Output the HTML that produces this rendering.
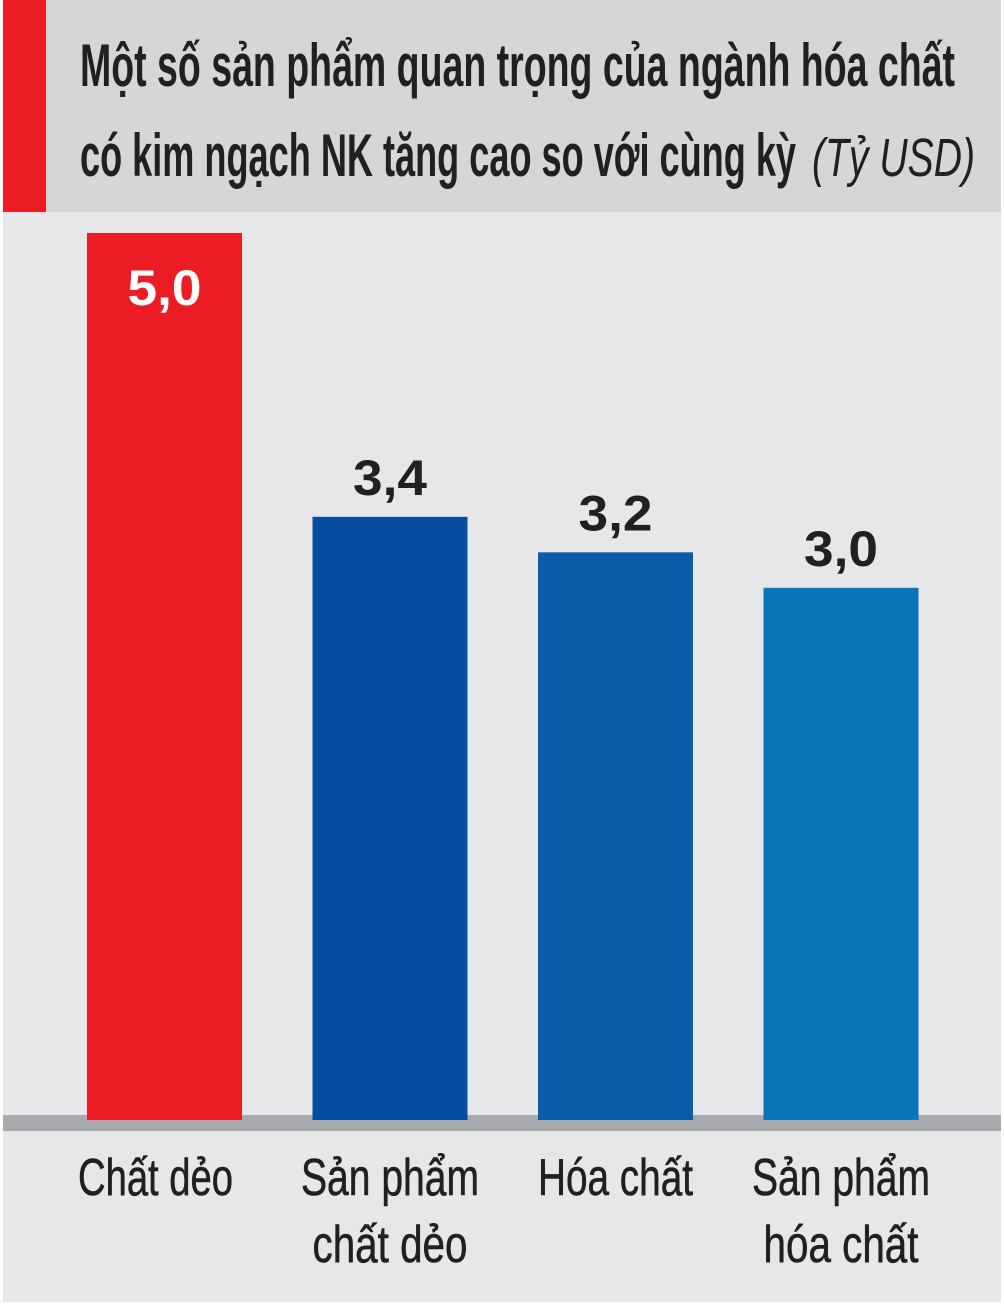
<!DOCTYPE html>
<html><head><meta charset="utf-8"><style>
html,body{margin:0;padding:0;background:#fff;}
svg{display:block;font-family:"Liberation Sans",sans-serif;}
</style></head><body>
<svg id="chart" width="1004" height="1312" viewBox="0 0 1004 1312">
<rect x="3" y="0" width="998" height="1302" fill="#e6e7e8"/>
<rect x="3" y="0" width="998" height="212" fill="#d5d6d8"/>
<rect x="3" y="0" width="43" height="212" fill="#ec1c24"/>
<text x="80" y="86" font-size="60" font-weight="bold" fill="#231f20" textLength="875" lengthAdjust="spacingAndGlyphs">Một số sản phẩm quan trọng của ngành hóa chất</text>
<text x="80" y="176" font-size="60" font-weight="bold" fill="#231f20" textLength="716" lengthAdjust="spacingAndGlyphs">có kim ngạch NK tăng cao so với cùng kỳ</text>
<text x="812" y="176" font-size="54" font-style="italic" fill="#231f20" textLength="163" lengthAdjust="spacingAndGlyphs">(Tỷ USD)</text>
<rect x="3" y="1115" width="998" height="16" fill="#a7a9ac"/>
<g id="bars"></g>
</svg>
<script>
const categories = [["Chất dẻo"], ["Sản phẩm", "chất dẻo"], ["Hóa chất"], ["Sản phẩm", "hóa chất"]];
const values = [5.0, 3.4, 3.2, 3.0];
const valueLabels = ["5,0", "3,4", "3,2", "3,0"];
const colors = ["#ec1c24", "#064ca0", "#0a5ea8", "#0a76ba"];
const NS = "http://www.w3.org/2000/svg";
const baseY = 1120, yMax = 5.0, plotH = 887;
const y = v => baseY - v / yMax * plotH;
const x0 = 87, step = 225.5, bw = 155;
const xc = i => x0 + i * step + bw / 2;
const g = document.getElementById("bars");
function mk(tag, attrs) { const e = document.createElementNS(NS, tag); for (const k in attrs) e.setAttribute(k, attrs[k]); g.appendChild(e); return e; }
values.forEach((v, i) => {
  const r = mk("rect", { x: xc(i) - bw / 2, y: y(v), width: bw, height: baseY - y(v), fill: colors[i] });
  
  
  const inside = i === 0;
  const t = mk("text", { x: xc(i), y: inside ? y(v) + 72 : y(v) - 22, "font-size": 50, "font-weight": "bold", "text-anchor": "middle", fill: inside ? "#fff" : "#231f20", textLength: 74, lengthAdjust: "spacingAndGlyphs" });
  t.textContent = valueLabels[i];
  
  
  categories[i].forEach((line, j) => {
    const wide = line.indexOf("Sản") === 0;
    const c = mk("text", { x: xc(i) - (i === 0 ? 9 : 0), y: 1195 + j * 67, "font-size": 52, "text-anchor": "middle", fill: "#231f20", stroke: "#231f20", "stroke-width": 0.6, textLength: wide ? 178 : 155, lengthAdjust: "spacingAndGlyphs" });
    c.textContent = line;
    
    
  });
});
</script>
</body></html>
